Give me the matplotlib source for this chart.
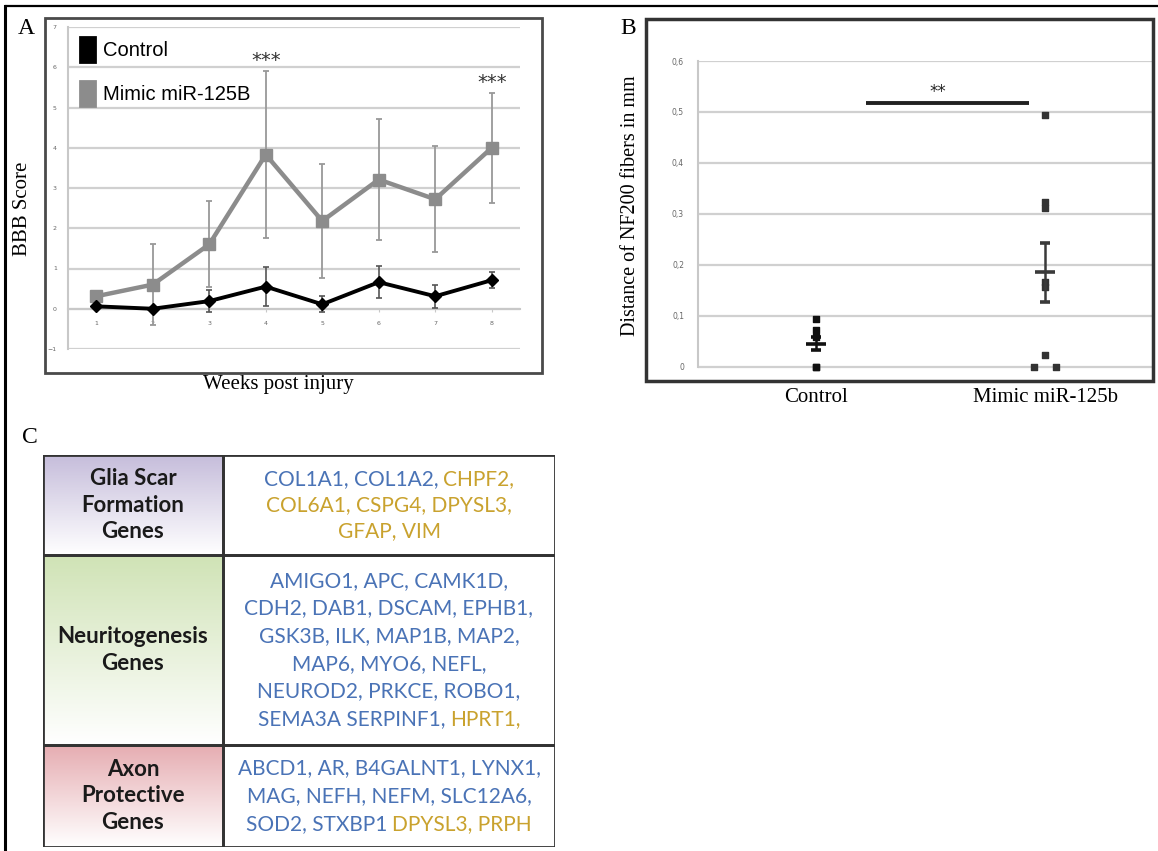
import matplotlib
matplotlib.use("Agg")
import matplotlib.pyplot as plt
import matplotlib.patches as mpatches
from matplotlib.colors import LinearSegmentedColormap
from matplotlib.offsetbox import TextArea, HPacker, VPacker, AnnotationBbox
import numpy as np

W, H = 1158, 851  # tamaño en píxeles

# ---- Datos panel A (BBB) ----
semanas = [1, 2, 3, 4, 5, 6, 7, 8]
control_bbb = [0.06, 0.0, 0.19, 0.55, 0.11, 0.66, 0.31, 0.71]
control_err = [0.05, 0.05, 0.27, 0.48, 0.2, 0.4, 0.29, 0.2]
mimic_bbb = [0.31, 0.6, 1.6, 3.83, 2.18, 3.21, 2.72, 4.0]
mimic_err = [0.13, 1.0, 1.07, 2.07, 1.42, 1.5, 1.32, 1.37]
semanas_sig = [4, 8]
series_a = ["Control", "Mimic miR-125B"]

# ---- Datos panel B (NF200) ----
grupos = ["Control", "Mimic miR-125b"]
control_nf = [0.093, 0.073, 0.058, 0.0, 0.0]
control_jit = [0, 0, 0, 0, 0]
mimic_nf = [0.495, 0.324, 0.311, 0.167, 0.156, 0.023, 0.0, 0.0]
mimic_jit = [0, 0, 0, 0, 0, 0, -0.05, 0.05]
medias_nf = [0.045, 0.185]
sem_nf = [0.013, 0.057]
ticks_b = [0, 0.1, 0.2, 0.3, 0.4, 0.5, 0.6]
etiquetas_b = ["0", "0,1", "0,2", "0,3", "0,4", "0,5", "0,6"]

# ---- Datos panel C (tabla) ----
categorias = ["Glia Scar\nFormation\nGenes", "Neuritogenesis\nGenes", "Axon\nProtective\nGenes"]
genes = [
    [[("COL1A1, COL1A2,", "azul"), ("CHPF2,", "oro")],
     [("COL6A1, CSPG4, DPYSL3,", "oro")],
     [("GFAP, VIM", "oro")]],
    [[("AMIGO1, APC, CAMK1D,", "azul")],
     [("CDH2, DAB1, DSCAM, EPHB1,", "azul")],
     [("GSK3B, ILK, MAP1B, MAP2,", "azul")],
     [("MAP6, MYO6, NEFL,", "azul")],
     [("NEUROD2, PRKCE, ROBO1,", "azul")],
     [("SEMA3A SERPINF1,", "azul"), ("HPRT1,", "oro")]],
    [[("ABCD1, AR, B4GALNT1, LYNX1,", "azul")],
     [("MAG, NEFH, NEFM, SLC12A6,", "azul")],
     [("SOD2, STXBP1", "azul"), ("DPYSL3, PRPH", "oro")]],
]
colores_genes = {"azul": "#4a73b6", "oro": "#c9a22e"}
colores_cat = ["#c6bddb", "#d0e3b6", "#e6adb2"]

SERIF = "Liberation Serif"


def caja(x0, y0, x1, y1):
    return [x0 / W, 1 - y1 / H, (x1 - x0) / W, (y1 - y0) / H]


fig = plt.figure(figsize=(W / 100, H / 100), dpi=100)

# marco general de la figura
fig.add_artist(plt.Line2D([6 / W, 1], [1 - 6 / H, 1 - 6 / H], color="black", lw=1.6))
fig.add_artist(plt.Line2D([5 / W, 5 / W], [0, 1 - 6 / H], color="black", lw=2.2))

# ================= Panel A =================
axA = fig.add_axes(caja(68, 27, 520, 349))
axA.set_xlim(0.5, 8.5)
axA.set_ylim(-1, 7)
for s in ["top", "right"]:
    axA.spines[s].set_visible(False)
axA.spines["left"].set_color("#c8c8c8")
axA.spines["left"].set_linewidth(1.5)
axA.spines["bottom"].set_position(("data", 0))
axA.spines["bottom"].set_color("#c8c8c8")
axA.spines["bottom"].set_linewidth(1.5)
axA.set_yticks(range(-1, 8))
axA.set_xticks(semanas)
axA.tick_params(axis="y", length=0, pad=8, labelsize=4.5, labelcolor="#666")
axA.tick_params(axis="x", length=2, color="#c8c8c8", pad=7, labelsize=4.5, labelcolor="#666")
axA.yaxis.grid(True, color="#d0d0d0", lw=1.6)
axA.set_axisbelow(True)

axA.errorbar(semanas, mimic_bbb, yerr=mimic_err, color="#8c8c8c", lw=3.2, marker="s", ms=9,
             ecolor="#999999", elinewidth=1.3, capsize=2.5, capthick=1.3, zorder=3)
axA.errorbar(semanas, control_bbb, yerr=control_err, color="black", lw=2.8, marker="D", ms=6,
             ecolor="#555555", elinewidth=1.2, capsize=2.5, capthick=1.2, zorder=4)

for w in semanas_sig:
    i = semanas.index(w)
    axA.text(w, mimic_bbb[i] + mimic_err[i] + 0.02, "***", ha="center", va="bottom",
             fontsize=14, color="#333")

handles = [mpatches.Patch(facecolor="black", edgecolor="black", lw=2, joinstyle="round"),
           mpatches.Patch(facecolor="#8c8c8c", edgecolor="#8c8c8c", lw=2, joinstyle="round")]
axA.legend(handles, series_a, loc="upper left", bbox_to_anchor=(0.027, 0.968), frameon=False,
           prop={"family": "Liberation Sans", "size": 14.5}, handlelength=0.75, handleheight=1.5,
           handletextpad=0.4, labelspacing=0.95, borderpad=0, borderaxespad=0)

axA.set_ylabel("BBB Score", family=SERIF, fontsize=15)
axA.yaxis.set_label_coords(-0.08, 0.436)
axA.set_xlabel("Weeks post injury", family=SERIF, fontsize=15)
axA.xaxis.set_label_coords(0.466, -0.082)

fig.add_artist(mpatches.Rectangle((45 / W, 1 - 373 / H), 497 / W, 355 / H, transform=fig.transFigure,
                                  fill=False, ec="#4a4a4a", lw=2))
fig.text(18 / W, 1 - 18 / H, "A", family=SERIF, fontsize=17, va="top")

# ================= Panel B =================
axB = fig.add_axes(caja(698, 61, 1152, 381))
axB.set_xlim(-0.015, 1.967)
axB.set_ylim(-0.028, 0.6)
for s in ["top", "right", "bottom"]:
    axB.spines[s].set_visible(False)
axB.spines["left"].set_color("#c8c8c8")
axB.spines["left"].set_linewidth(1.5)
axB.spines["left"].set_bounds(0, 0.6)
axB.set_yticks(ticks_b, etiquetas_b)
axB.tick_params(axis="y", length=0, pad=10, labelsize=5.5, labelcolor="#666")
axB.set_xticks([0.5, 1.5], grupos)
axB.tick_params(axis="x", length=0, pad=5, labelsize=15)
for lab in axB.get_xticklabels():
    lab.set_family(SERIF)
axB.yaxis.grid(True, color="#d0d0d0", lw=1.6)
axB.set_axisbelow(True)

axB.scatter([0.5 + j for j in control_jit], control_nf, marker="s", s=22, color="#111", zorder=3)
axB.scatter([1.5 + j for j in mimic_jit], mimic_nf, marker="s", s=22, color="#333", zorder=3)
for k, c in enumerate(["#111", "#3a3a3a"]):
    axB.errorbar(0.5 + k, medias_nf[k], yerr=sem_nf[k], fmt="_", ms=14, mew=2.6, color=c,
                 ecolor=c, elinewidth=1.8, capsize=3.5, capthick=1.8, zorder=4)

axB.plot([0.72, 1.43], [0.518, 0.518], color="#222", lw=2.8, solid_capstyle="butt")
axB.text(1.03, 0.521, "**", ha="center", va="bottom", fontsize=12, color="#222")

axB.set_ylabel("Distance of NF200 fibers in mm", family=SERIF, fontsize=14.5)
axB.yaxis.set_label_coords(-0.128, 0.547)

fig.add_artist(mpatches.Rectangle((646 / W, 1 - 381 / H), 507 / W, 362 / H, transform=fig.transFigure,
                                  fill=False, ec="#333333", lw=2.5))
fig.text(620 / W, 1 - 18 / H, "B", family=SERIF, fontsize=17, va="top")

# ================= Panel C =================
axT = fig.add_axes(caja(43, 455, 555, 847))
ancho, col = 512, 180
alturas = [100, 190, 102]
axT.set_xlim(0, ancho)
axT.set_ylim(sum(alturas), 0)
axT.axis("off")

grad = np.linspace(0, 1, 200)[:, None]
y0 = 0
for k, h in enumerate(alturas):
    cmap = LinearSegmentedColormap.from_list("g%d" % k, [colores_cat[k], "#ffffff"])
    axT.imshow(grad, extent=(0, col, y0 + h, y0), cmap=cmap, aspect="auto",
               interpolation="bilinear", zorder=1)
    axT.add_patch(mpatches.Rectangle((0, y0), col, h, fill=False, ec="#333", lw=2, zorder=3))
    axT.add_patch(mpatches.Rectangle((col, y0), ancho - col, h, fill=False, ec="#333", lw=2, zorder=3))
    axT.text(col / 2, y0 + h / 2, categorias[k], ha="center", va="center", family="Lato",
             fontweight="bold", fontsize=16, linespacing=1.32, color="#1a1a1a", zorder=4)
    lineas = []
    for linea in genes[k]:
        partes = [TextArea(t, textprops=dict(color=colores_genes[c], family="Lato", fontsize=15))
                  for t, c in linea]
        lineas.append(HPacker(children=partes, sep=3.5, pad=0, align="baseline"))
    bloque = VPacker(children=lineas, sep=4.5 if k == 0 else 5.5, pad=0, align="center")
    axT.add_artist(AnnotationBbox(bloque, ((col + ancho) / 2, y0 + h / 2), frameon=False,
                                  box_alignment=(0.5, 0.5), pad=0, zorder=4))
    y0 += h
axT.set_xlim(0, ancho)
axT.set_ylim(sum(alturas), 0)

fig.text(22 / W, 1 - 427 / H, "C", family=SERIF, fontsize=17, va="top")

fig.savefig("out.png", dpi=100)
